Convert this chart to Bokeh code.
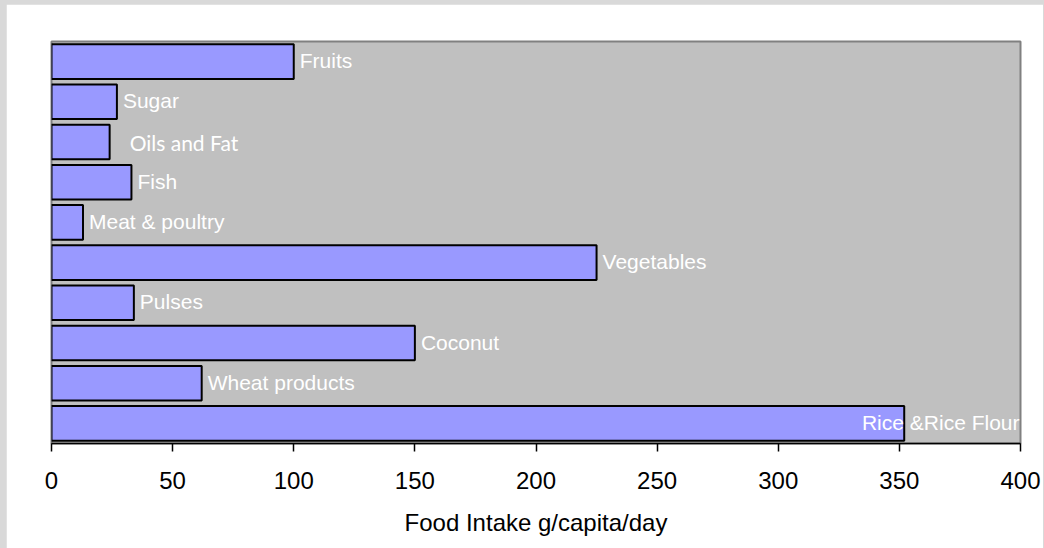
from bokeh.plotting import figure
from bokeh.models import Range1d, FactorRange, FixedTicker, ColumnDataSource, GlobalInlineStyleSheet
from bokeh.core.properties import value
from bokeh.embed import file_html
from bokeh.resources import INLINE

# ---- data (top to bottom as shown) ----
categories = ["Fruits", "Sugar", "Oils and Fat", "Fish", "Meat & poultry",
              "Vegetables", "Pulses", "Coconut", "Wheat products", "Rice &Rice Flour"]
values = [100, 27, 24, 33, 13, 225, 34, 150, 62, 352]
x_ticks = [0, 50, 100, 150, 200, 250, 300, 350, 400]
x_label = "Food Intake g/capita/day"
x_max = 400

FONT = value("Liberation Sans")

p = figure(width=1037, height=544, output_backend="svg", toolbar_location=None,
           x_range=Range1d(0, x_max), y_range=FactorRange(factors=list(reversed(categories))),
           min_border_left=45, min_border_right=23, min_border_top=37, min_border_bottom=105)

p.stylesheets = [GlobalInlineStyleSheet(
    css="html, body { background: #d9d9d9; margin: 0; padding: 0; } body { padding: 4px 1px 0 6px; }")]

p.background_fill_color = "#c0c0c0"
p.border_fill_color = "white"
p.outline_line_color = "#808080"
p.outline_line_width = 2
p.grid.visible = False
p.yaxis.visible = False

src = ColumnDataSource(dict(cat=categories, val=values))
p.hbar(y="cat", right="val", left=0, height=0.86, source=src,
       fill_color="#9999ff", line_color="black", line_width=2)

# labels
normal = [(c, v) for c, v in zip(categories, values) if c not in ("Oils and Fat", "Rice &Rice Flour")]
lab_src = ColumnDataSource(dict(cat=[c for c, _ in normal], x=[v for _, v in normal]))
p.text(x="x", y="cat", text="cat", source=lab_src, x_offset=6, y_offset=-1,
       text_font=FONT, text_font_size="21px", text_color="white",
       text_baseline="middle", text_align="left")

oil_i = categories.index("Oils and Fat")
oil_src = ColumnDataSource(dict(cat=[categories[oil_i]], x=[values[oil_i]]))
p.text(x="x", y="cat", text="cat", source=oil_src, x_offset=20,
       text_font=value("Lato"), text_font_size="21px", text_color="white",
       text_baseline="middle", text_align="left")

rice_i = categories.index("Rice &Rice Flour")
rice_src = ColumnDataSource(dict(cat=[categories[rice_i]], x=[x_max]))
p.text(x="x", y="cat", text="cat", source=rice_src, x_offset=-1, y_offset=-1,
       text_font=FONT, text_font_size="21px", text_color="white",
       text_baseline="middle", text_align="right")

ax = p.xaxis[0]
ax.ticker = FixedTicker(ticks=x_ticks)
ax.axis_label = x_label
ax.axis_label_text_font = "Liberation Sans"
ax.axis_label_text_font_size = "24px"
ax.axis_label_text_font_style = "normal"
ax.axis_label_text_color = "black"
ax.axis_label_standoff = 17
ax.major_label_text_font = "Liberation Sans"
ax.major_label_text_font_size = "24px"
ax.major_label_text_color = "black"
ax.major_label_standoff = 20
ax.major_tick_out = 8
ax.major_tick_in = 0
ax.minor_tick_out = 0
ax.minor_tick_in = 0
ax.axis_line_color = "black"
ax.axis_line_width = 1.5
ax.major_tick_line_color = "black"
ax.major_tick_line_width = 1.5

open("out.html", "w").write(file_html(p, INLINE))
